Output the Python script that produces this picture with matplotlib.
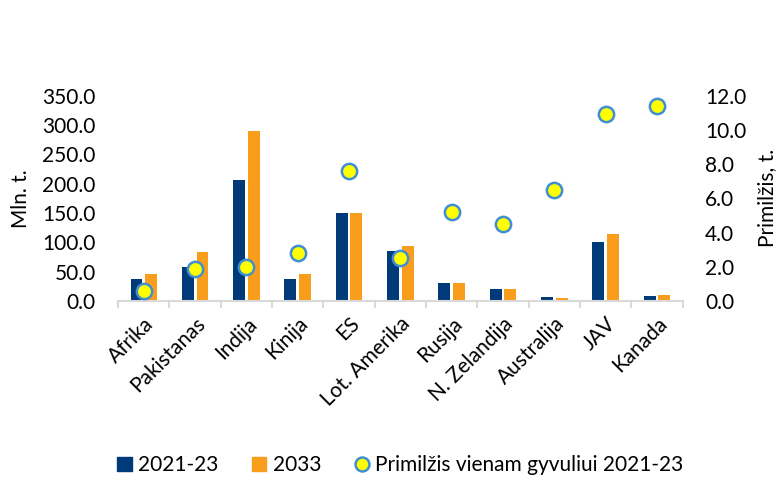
import numpy as np
import matplotlib.pyplot as plt
from matplotlib.patches import Patch
from matplotlib.lines import Line2D

plt.rcParams['font.family'] = ['Lato', 'DejaVu Sans']

regions = ['Afrika', 'Pakistanas', 'Indija', 'Kinija', 'ES', 'Lot. Amerika',
           'Rusija', 'N. Zelandija', 'Australija', 'JAV', 'Kanada']
milk_2021_23 = [37, 58, 206, 37, 150, 85, 31, 20, 7, 101, 9]
milk_2033 = [46, 83, 290, 46, 150, 94, 31, 20, 6, 114, 11]
yield_per_cow = [0.6, 1.9, 2.0, 2.8, 7.6, 2.5, 5.2, 4.5, 6.5, 10.9, 11.4]

c_blue = '#003A78'
c_orange = '#F99D1C'
c_axis = '#D9D9D9'
fs = 15

fig = plt.figure(figsize=(7.82, 4.78), dpi=100)
ax = fig.add_axes([0.151, 0.370, 0.722, 0.430])
ax2 = ax.twinx()

x = np.arange(len(regions))
w = 0.23
ax.bar(x - 0.143, milk_2021_23, w, color=c_blue, zorder=2)
ax.bar(x + 0.143, milk_2033, w, color=c_orange, zorder=2)
ax2.plot(x, yield_per_cow, 'o', ms=11, mfc='#FFFF00', mec='#3F8FD2', mew=1.8, zorder=3)

ax.set_xlim(-0.5, len(regions) - 0.5)
ax.set_ylim(0, 350)
ax2.set_ylim(0, 12)
ax.set_yticks(np.arange(0, 351, 50))
ax.set_yticklabels([f'{v:.1f}' for v in np.arange(0, 351, 50)])
ax2.set_yticks(np.arange(0, 12.1, 2))
ax2.set_yticklabels([f'{v:.1f}' for v in np.arange(0, 12.1, 2)])

for a in (ax, ax2):
    for s in a.spines.values():
        s.set_visible(False)
    a.tick_params(axis='y', length=0, pad=16, labelsize=fs)
ax.spines['bottom'].set_visible(True)
ax.spines['bottom'].set_color(c_axis)
ax.spines['bottom'].set_linewidth(1.5)

# kategorijos: etiketes centre, bruksneliai tarp grupiu
ax.set_xticks(x)
ax.set_xticklabels(regions, rotation=45, ha='right', rotation_mode='anchor', fontsize=fs)
ax.tick_params(axis='x', which='major', length=0, pad=9)
ax.set_xticks(np.arange(-0.5, len(regions), 1), minor=True)
ax.tick_params(axis='x', which='minor', length=5, color=c_axis, width=1.5)

ax.set_ylabel('Mln. t.', fontsize=fs, labelpad=8)
ax2.set_ylabel('Primilžis, t.', fontsize=fs, labelpad=8)

handles = [Patch(color=c_blue), Patch(color=c_orange),
           Line2D([], [], ls='', marker='o', ms=10, mfc='#FFFF00', mec='#3F8FD2', mew=1.8)]
fig.legend(handles, ['2021-23', '2033', 'Primilžis vienam gyvuliui 2021-23'],
           loc='center', bbox_to_anchor=(0.512, 0.027), ncol=3, frameon=False,
           fontsize=fs, handlelength=0.7, handleheight=0.7, handletextpad=0.3,
           columnspacing=1.6)

fig.savefig('out.png', dpi=100)
